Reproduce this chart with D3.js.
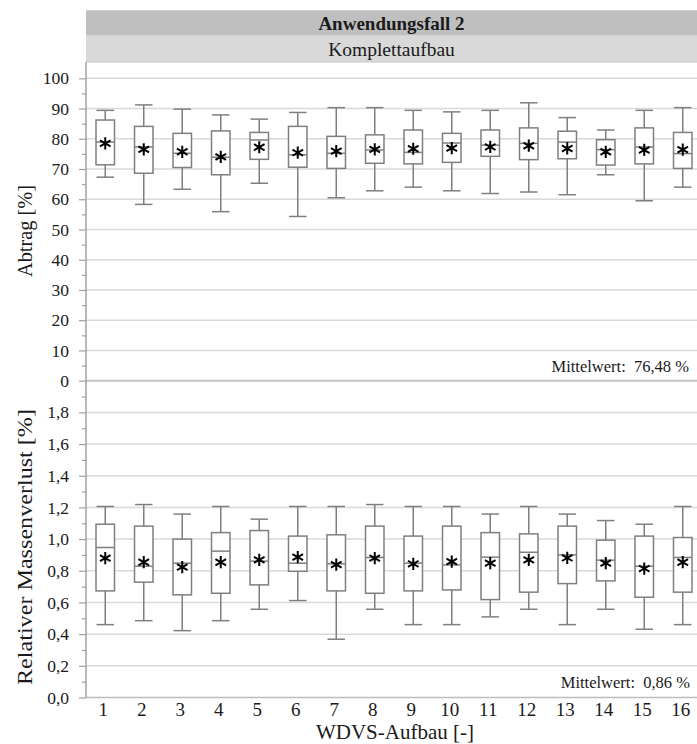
<!DOCTYPE html>
<html><head><meta charset="utf-8">
<script src="https://cdn.jsdelivr.net/npm/d3@7"></script>
<style>
body{margin:0;background:#fff}
svg{display:block}
svg text{font-family:"Liberation Serif","Times New Roman",serif}
</style>
</head><body>
<svg id="c" width="697" height="744"></svg>
<script>
// ---- data ----
const categories = d3.range(1, 17).map(String);

// Panel 1: Abtrag [%]
const abtragWhiskerHigh = [89.4, 91.2, 89.8, 87.9, 86.5, 88.7, 90.3, 90.3, 89.4, 88.9, 89.4, 91.9, 87.0, 82.9, 89.4, 90.3];
const abtragQ3          = [86.2, 84.1, 81.8, 82.6, 82.1, 84.1, 80.8, 81.3, 82.9, 81.8, 82.9, 83.6, 82.5, 79.7, 83.6, 82.1];
const abtragMedian      = [78.9, 77.3, 75.2, 73.9, 79.6, 74.7, 75.2, 76.3, 75.5, 78.6, 77.9, 78.5, 78.9, 76.4, 77.3, 75.1];
const abtragMean        = [78.5, 76.5, 75.7, 74.0, 77.2, 75.4, 75.9, 76.5, 76.7, 76.9, 77.3, 77.7, 76.8, 75.7, 76.3, 76.4];
const abtragQ1          = [71.4, 68.6, 70.5, 68.1, 73.2, 70.6, 70.2, 71.9, 71.7, 72.2, 74.2, 73.1, 73.4, 71.3, 71.7, 70.2];
const abtragWhiskerLow  = [67.3, 58.3, 63.3, 55.9, 65.3, 54.3, 60.5, 62.8, 64.0, 62.8, 61.9, 62.4, 61.5, 68.1, 59.5, 64.0];

// Panel 2: Relativer Massenverlust [%]
const massWhiskerHigh = [1.206, 1.218, 1.158, 1.206, 1.126, 1.206, 1.206, 1.218, 1.206, 1.206, 1.158, 1.206, 1.158, 1.117, 1.094, 1.206];
const massQ3          = [1.094, 1.082, 1.000, 1.041, 1.054, 1.019, 1.027, 1.082, 1.019, 1.082, 1.041, 1.033, 1.082, 0.993, 1.019, 1.010];
const massMedian      = [0.947, 0.829, 0.848, 0.924, 0.861, 0.848, 0.844, 0.884, 0.848, 0.837, 0.886, 0.917, 0.900, 0.867, 0.829, 0.884];
const massMean        = [0.880, 0.854, 0.823, 0.854, 0.869, 0.886, 0.839, 0.880, 0.844, 0.858, 0.848, 0.869, 0.881, 0.848, 0.814, 0.854];
const massQ1          = [0.673, 0.728, 0.648, 0.658, 0.711, 0.797, 0.673, 0.658, 0.673, 0.679, 0.618, 0.665, 0.719, 0.736, 0.633, 0.665];
const massWhiskerLow  = [0.460, 0.485, 0.422, 0.485, 0.557, 0.612, 0.368, 0.557, 0.460, 0.460, 0.509, 0.557, 0.460, 0.557, 0.431, 0.460];

const abtragTicks = [0, 10, 20, 30, 40, 50, 60, 70, 80, 90, 100];
const massTicks = [0, 0.2, 0.4, 0.6, 0.8, 1.0, 1.2, 1.4, 1.6, 1.8];

const title = "Anwendungsfall 2";
const subtitle = "Komplettaufbau";
const abtragLabel = "Abtrag [%]";
const massLabel = "Relativer Massenverlust [%]";
const xLabel = "WDVS-Aufbau [-]";
const abtragNote = "Mittelwert:  76,48 %";
const massNote = "Mittelwert:  0,86 %";

// ---- layout ----
const FONT = '"Liberation Serif","Times New Roman",serif';
const svg = d3.select("#c");
const L = 86, R = 697;
const x = d3.scaleBand().domain(categories).range([L, 702]).paddingInner(0.52).paddingOuter(0.26);
const yTop = d3.scaleLinear().domain([0, 100]).range([380.7, 78.3]);
const yBot = d3.scaleLinear().domain([0, 2]).range([697.5, 380.7]);

const grid = "#d9d9d9", axisCol = "#a0a0a0", boxCol = "#7f7f7f", ink = "#1a1a1a";
const fmt = d => d3.format(".1f")(d).replace(".", ",");

function txt(sel) { return sel.attr("font-family", FONT).attr("fill", ink); }

// header bands
svg.append("rect").attr("x", L).attr("y", 10.3).attr("width", R - L).attr("height", 25.4).attr("fill", "#bfbfbf");
svg.append("rect").attr("x", L).attr("y", 35.7).attr("width", R - L).attr("height", 26.3).attr("fill", "#d9d9d9");
txt(svg.append("text")).attr("x", (L + R) / 2).attr("y", 29.5).attr("text-anchor", "middle")
  .attr("font-weight", "bold").attr("font-size", 19).text(title);
txt(svg.append("text")).attr("x", (L + R) / 2).attr("y", 55.5).attr("text-anchor", "middle")
  .attr("font-size", 19.5).text(subtitle);

// gridlines
function gridlines(y, ticks) {
  svg.append("g").selectAll("line").data(ticks).join("line")
    .attr("x1", L).attr("x2", R).attr("y1", d => y(d)).attr("y2", d => y(d))
    .attr("stroke", grid).attr("stroke-width", 1.5);
}
gridlines(yTop, abtragTicks.filter(d => d > 0));
gridlines(yBot, massTicks.filter(d => d > 0));
svg.append("line").attr("x1", L).attr("x2", R).attr("y1", yTop(0)).attr("y2", yTop(0))
  .attr("stroke", "#c6c6c6").attr("stroke-width", 2);
svg.append("line").attr("x1", L).attr("x2", R).attr("y1", yBot(0)).attr("y2", yBot(0))
  .attr("stroke", "#bdbdbd").attr("stroke-width", 1.5);
svg.append("line").attr("x1", L).attr("x2", R).attr("y1", 62).attr("y2", 62)
  .attr("stroke", "#c6c6c6").attr("stroke-width", 1);

// y axes
function yAxis(y, ticks, minor, format) {
  const gMinor = svg.append("g").attr("transform", `translate(${L},0)`)
    .call(d3.axisLeft(y).tickValues(minor).tickSize(4).tickFormat(""));
  gMinor.select(".domain").remove();
  gMinor.selectAll("line").attr("stroke", axisCol).attr("stroke-width", 1.2);
  const g = svg.append("g").attr("transform", `translate(${L},0)`)
    .call(d3.axisLeft(y).tickValues(ticks).tickSize(7).tickPadding(10).tickFormat(format));
  g.attr("font-family", FONT);
  g.select(".domain").remove();
  g.selectAll("line").attr("stroke", axisCol).attr("stroke-width", 1.2);
  txt(g.selectAll("text")).attr("font-size", 17.5);
}
yAxis(yTop, abtragTicks, d3.range(5, 100, 10), d => String(d));
yAxis(yBot, massTicks, d3.range(1, 20, 2).map(d => d / 10), fmt);
svg.append("line").attr("x1", L).attr("x2", L).attr("y1", 62).attr("y2", yBot(0))
  .attr("stroke", axisCol).attr("stroke-width", 1.5);

// x axis labels
const gx = svg.append("g").attr("transform", `translate(0,${yBot(0)})`)
  .call(d3.axisBottom(x).tickSize(0).tickPadding(0));
gx.attr("font-family", FONT);
gx.select(".domain").remove();
txt(gx.selectAll("text")).attr("font-size", 19).attr("dx", -2).attr("dy", 18.5);

// boxplots
const star = d3.symbol().type(d3.symbolAsterisk).size(105);
function boxes(y, hi, q3, med, mean, q1, lo) {
  const rows = categories.map((c, i) => ({c, hi: hi[i], q3: q3[i], med: med[i], mean: mean[i], q1: q1[i], lo: lo[i]}));
  const bw = x.bandwidth();
  const g = svg.append("g").selectAll("g").data(rows).join("g")
    .attr("transform", d => `translate(${x(d.c)},0)`);
  g.append("line").attr("x1", bw / 2).attr("x2", bw / 2).attr("y1", d => y(d.hi)).attr("y2", d => y(d.lo))
    .attr("stroke", boxCol).attr("stroke-width", 1.5);
  g.append("line").attr("x1", 0.5).attr("x2", bw - 0.5).attr("y1", d => y(d.hi)).attr("y2", d => y(d.hi))
    .attr("stroke", boxCol).attr("stroke-width", 1.5);
  g.append("line").attr("x1", 0.5).attr("x2", bw - 0.5).attr("y1", d => y(d.lo)).attr("y2", d => y(d.lo))
    .attr("stroke", boxCol).attr("stroke-width", 1.5);
  g.append("rect").attr("x", 0).attr("width", bw).attr("y", d => y(d.q3)).attr("height", d => y(d.q1) - y(d.q3))
    .attr("fill", "#fff").attr("stroke", boxCol).attr("stroke-width", 1.5);
  g.append("line").attr("x1", 0).attr("x2", bw).attr("y1", d => y(d.med)).attr("y2", d => y(d.med))
    .attr("stroke", boxCol).attr("stroke-width", 1.5);
  g.append("path").attr("d", star).attr("transform", d => `translate(${bw / 2},${y(d.mean)})`)
    .attr("fill", "none").attr("stroke", "#000").attr("stroke-width", 2);
}
boxes(yTop, abtragWhiskerHigh, abtragQ3, abtragMedian, abtragMean, abtragQ1, abtragWhiskerLow);
boxes(yBot, massWhiskerHigh, massQ3, massMedian, massMean, massQ1, massWhiskerLow);

// notes
txt(svg.append("text")).attr("x", 689).attr("y", 371.5).attr("text-anchor", "end")
  .attr("font-size", 16.5).style("white-space", "pre").text(abtragNote);
txt(svg.append("text")).attr("x", 690).attr("y", 688).attr("text-anchor", "end")
  .attr("font-size", 16.5).style("white-space", "pre").text(massNote);

// axis titles
txt(svg.append("text")).attr("transform", `translate(32,231) rotate(-90)`)
  .attr("text-anchor", "middle").attr("font-size", 21).attr("textLength", 92)
  .attr("lengthAdjust", "spacingAndGlyphs").text(abtragLabel);
txt(svg.append("text")).attr("transform", `translate(32,547) rotate(-90)`)
  .attr("text-anchor", "middle").attr("font-size", 22).attr("textLength", 276)
  .attr("lengthAdjust", "spacingAndGlyphs").text(massLabel);
txt(svg.append("text")).attr("x", 395).attr("y", 739).attr("text-anchor", "middle")
  .attr("font-size", 21).text(xLabel);
</script>
</body></html>
